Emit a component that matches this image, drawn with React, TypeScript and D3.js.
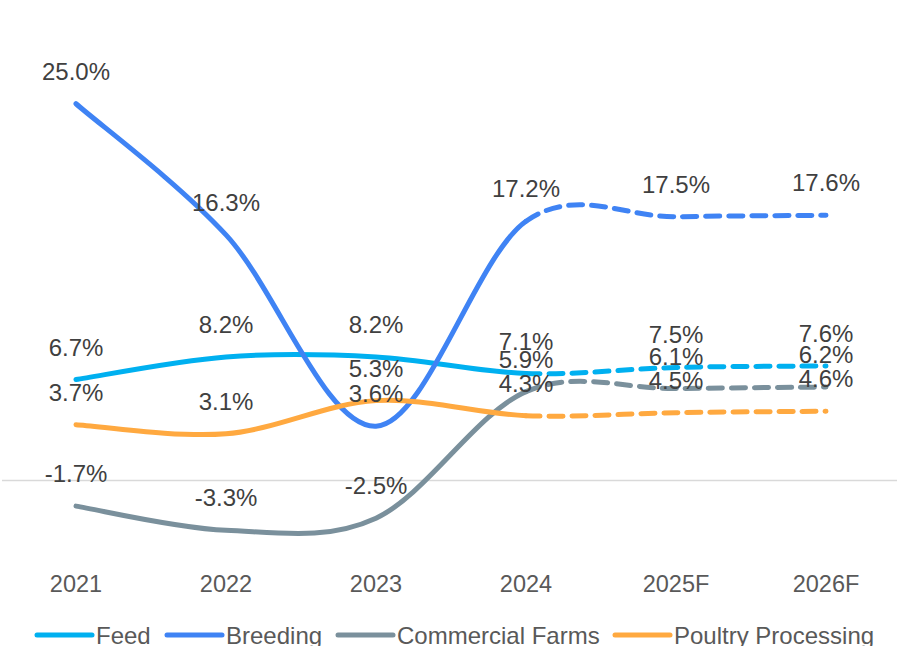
import React from "react";
import * as d3 from "d3";

const categories = ["2021", "2022", "2023", "2024", "2025F", "2026F"];
const seriesNames = ["Feed", "Breeding", "Commercial Farms", "Poultry Processing"];
const feed = [6.7, 8.2, 8.2, 7.1, 7.5, 7.6];
const breeding = [25.0, 16.3, 3.6, 17.2, 17.5, 17.6];
const commercial = [-1.7, -3.3, -2.5, 5.9, 6.1, 6.2];
const poultry = [3.7, 3.1, 5.3, 4.3, 4.5, 4.6];
const forecastStart = 3; // index of 2024: dashed afterwards

const colors = ["#00B0F0", "#3F83F4", "#7A909C", "#FFA940"];

const W = 898;
const H = 646;

type Pt = [number, number];

// Catmull-Rom (cardinal tension 0) bezier path through pts, only segments [from, to)
function smoothPath(pts: Pt[], from: number, to: number): string {
  const n = pts.length;
  const p = (i: number) => pts[Math.max(0, Math.min(n - 1, i))];
  let d = `M${p(from)[0]},${p(from)[1]}`;
  for (let i = from; i < to; i++) {
    const p0 = p(i - 1), p1 = p(i), p2 = p(i + 1), p3 = p(i + 2);
    const c1: Pt = [p1[0] + (p2[0] - p0[0]) / 6, p1[1] + (p2[1] - p0[1]) / 6];
    const c2: Pt = [p2[0] - (p3[0] - p1[0]) / 6, p2[1] - (p3[1] - p1[1]) / 6];
    d += `C${c1[0]},${c1[1]},${c2[0]},${c2[1]},${p2[0]},${p2[1]}`;
  }
  return d;
}

export default function App() {
  const x = d3.scalePoint<string>().domain(categories).range([76, 826]);
  const y = d3.scaleLinear().domain([0, 25]).range([480.5, 103.75]);
  const allSeries = [feed, breeding, commercial, poultry];
  const fmt = (v: number) => `${v.toFixed(1)}%`;

  const legendX = [37, 167, 338, 615];

  return (
    <svg
      width={W}
      height={H}
      style={{ position: "absolute", left: 0, top: 0, background: "#fff" }}
      fontFamily="Arial, 'Liberation Sans', sans-serif"
    >
      <line x1={2} x2={897} y1={y(0)} y2={y(0)} stroke="#D9D9D9" strokeWidth={1.5} />
      {categories.map((c) => (
        <text key={c} x={x(c)} y={592} textAnchor="middle" fontSize={23.5} fill="#595959">
          {c}
        </text>
      ))}
      {allSeries.map((vals, si) => {
        const pts: Pt[] = vals.map((v, i) => [x(categories[i])!, y(v)]);
        return (
          <g key={si}>
            <path
              d={smoothPath(pts, 0, forecastStart)}
              fill="none"
              stroke={colors[si]}
              strokeWidth={5}
              strokeLinecap="round"
            />
            <path
              d={smoothPath(pts, forecastStart, pts.length - 1)}
              fill="none"
              stroke={colors[si]}
              strokeWidth={5}
              strokeLinecap="round"
              strokeDasharray="14,9"
            />
          </g>
        );
      })}
      {allSeries.map((vals, si) =>
        vals.map((v, i) => (
          <text
            key={`${si}-${i}`}
            x={x(categories[i])}
            y={y(v) - 24}
            textAnchor="middle"
            fontSize={24}
            fill="#404040"
          >
            {fmt(v)}
          </text>
        ))
      )}
      {seriesNames.map((name, si) => (
        <g key={name}>
          <line
            x1={legendX[si]}
            x2={legendX[si] + 55}
            y1={635}
            y2={635}
            stroke={colors[si]}
            strokeWidth={5}
            strokeLinecap="round"
          />
          <text x={legendX[si] + 59} y={644} fontSize={24} fill="#595959">
            {name}
          </text>
        </g>
      ))}
    </svg>
  );
}
